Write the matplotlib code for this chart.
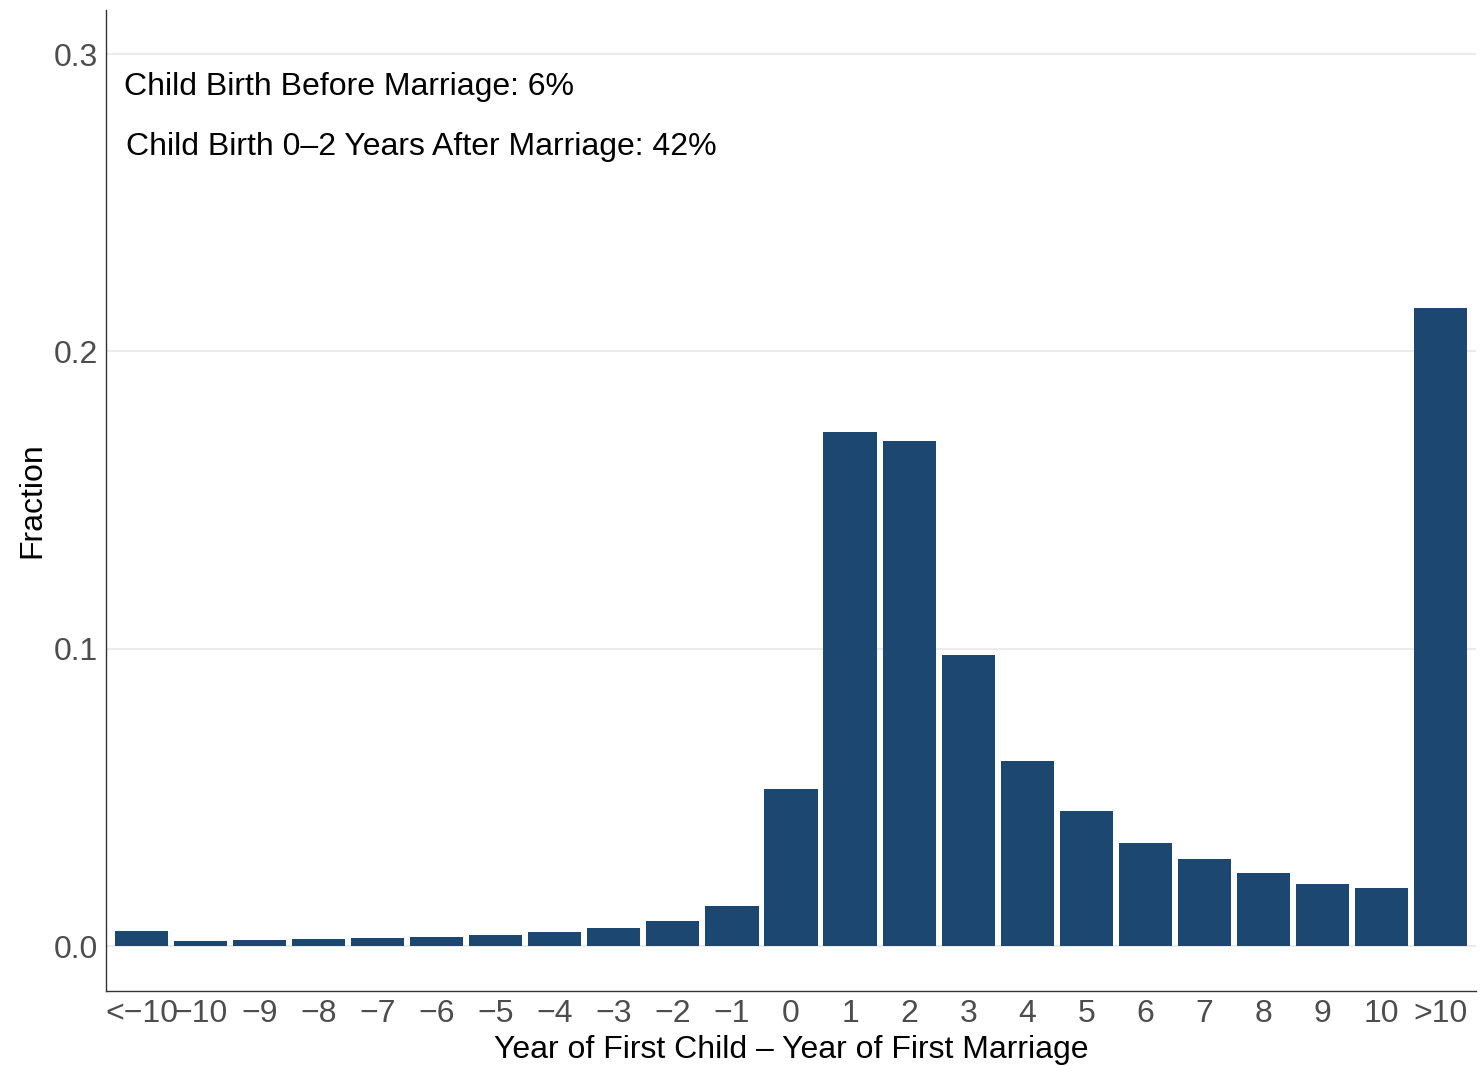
import matplotlib
matplotlib.use("Agg")
import matplotlib.pyplot as plt
import numpy as np

# gap between first child and first marriage (years)
categories = ["<\u221210", "\u221210", "\u22129", "\u22128", "\u22127", "\u22126", "\u22125",
              "\u22124", "\u22123", "\u22122", "\u22121", "0", "1", "2", "3", "4", "5",
              "6", "7", "8", "9", "10", ">10"]
fractions = [0.0050, 0.0017, 0.0020, 0.0024, 0.0026, 0.0030, 0.0037, 0.0047, 0.0061,
             0.0084, 0.0135, 0.0528, 0.1729, 0.1699, 0.0979, 0.0622, 0.0454, 0.0346,
             0.0293, 0.0246, 0.0209, 0.0195, 0.2146]
yticks = [0.0, 0.1, 0.2, 0.3]
notes = ["Child Birth Before Marriage: 6%",
         "Child Birth 0\u20132 Years After Marriage: 42%"]

plt.rcParams["font.family"] = ["Liberation Sans", "DejaVu Sans"]

fig = plt.figure(figsize=(14.82, 10.66), dpi=100)
ax = fig.add_axes([0.0715, 0.0704, 0.9245, 0.9202])

x = np.arange(len(categories))
ax.bar(x, fractions, width=0.9, color="#1c4770", zorder=2)

ax.set_xlim(-0.6, len(categories) - 0.4)
ax.set_ylim(-0.0151, 0.3148)
ax.set_xticks(x)
ax.set_xticklabels(categories)
ax.set_yticks(yticks)
ax.set_yticklabels([f"{t:.1f}" for t in yticks])
ax.tick_params(axis="both", length=0, labelsize=23, labelcolor="#4d4d4d")
ax.tick_params(axis="x", pad=6)
ax.tick_params(axis="y", pad=6)

ax.grid(axis="y", color="#ebebeb", linewidth=1.5, zorder=0)
for side in ["top", "right"]:
    ax.spines[side].set_visible(False)
for side in ["left", "bottom"]:
    ax.spines[side].set_color("#333333")
    ax.spines[side].set_linewidth(1.0)

ax.set_xlabel("Year of First Child \u2013 Year of First Marriage", fontsize=23, labelpad=4)
ax.set_ylabel("Fraction", fontsize=23, labelpad=4)

ax.text(-0.29, 0.2889, notes[0], fontsize=23, ha="left", va="center")
ax.text(-0.26, 0.2687, notes[1], fontsize=23, ha="left", va="center")

fig.savefig("out.png", dpi=100)
